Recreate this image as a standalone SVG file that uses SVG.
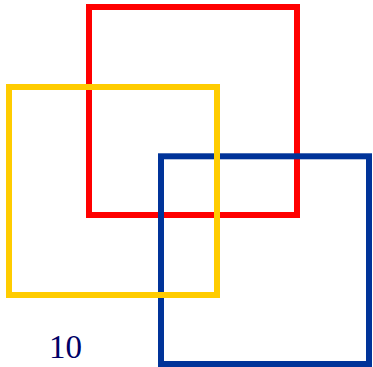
<svg xmlns="http://www.w3.org/2000/svg" width="373" height="367" viewBox="0 0 373 367">
<style>
.sq{fill:none;stroke-width:6}
.lbl{font-family:"Liberation Serif","Times New Roman",serif;font-size:33px;fill:#000066}
</style>
<rect width="373" height="367" fill="#ffffff"/>
<g id="red"><rect class="sq" x="89" y="7" width="208" height="208" stroke="#ff0000"/></g>
<g id="blue"><rect class="sq" x="161" y="156.3" width="208" height="207.7" stroke="#003399"/></g>
<g id="yellow"><rect class="sq" x="9" y="87" width="208" height="208" stroke="#ffcc00"/></g>
<g id="connectors"></g>
<text class="lbl" x="49" y="358">10</text>
</svg>
